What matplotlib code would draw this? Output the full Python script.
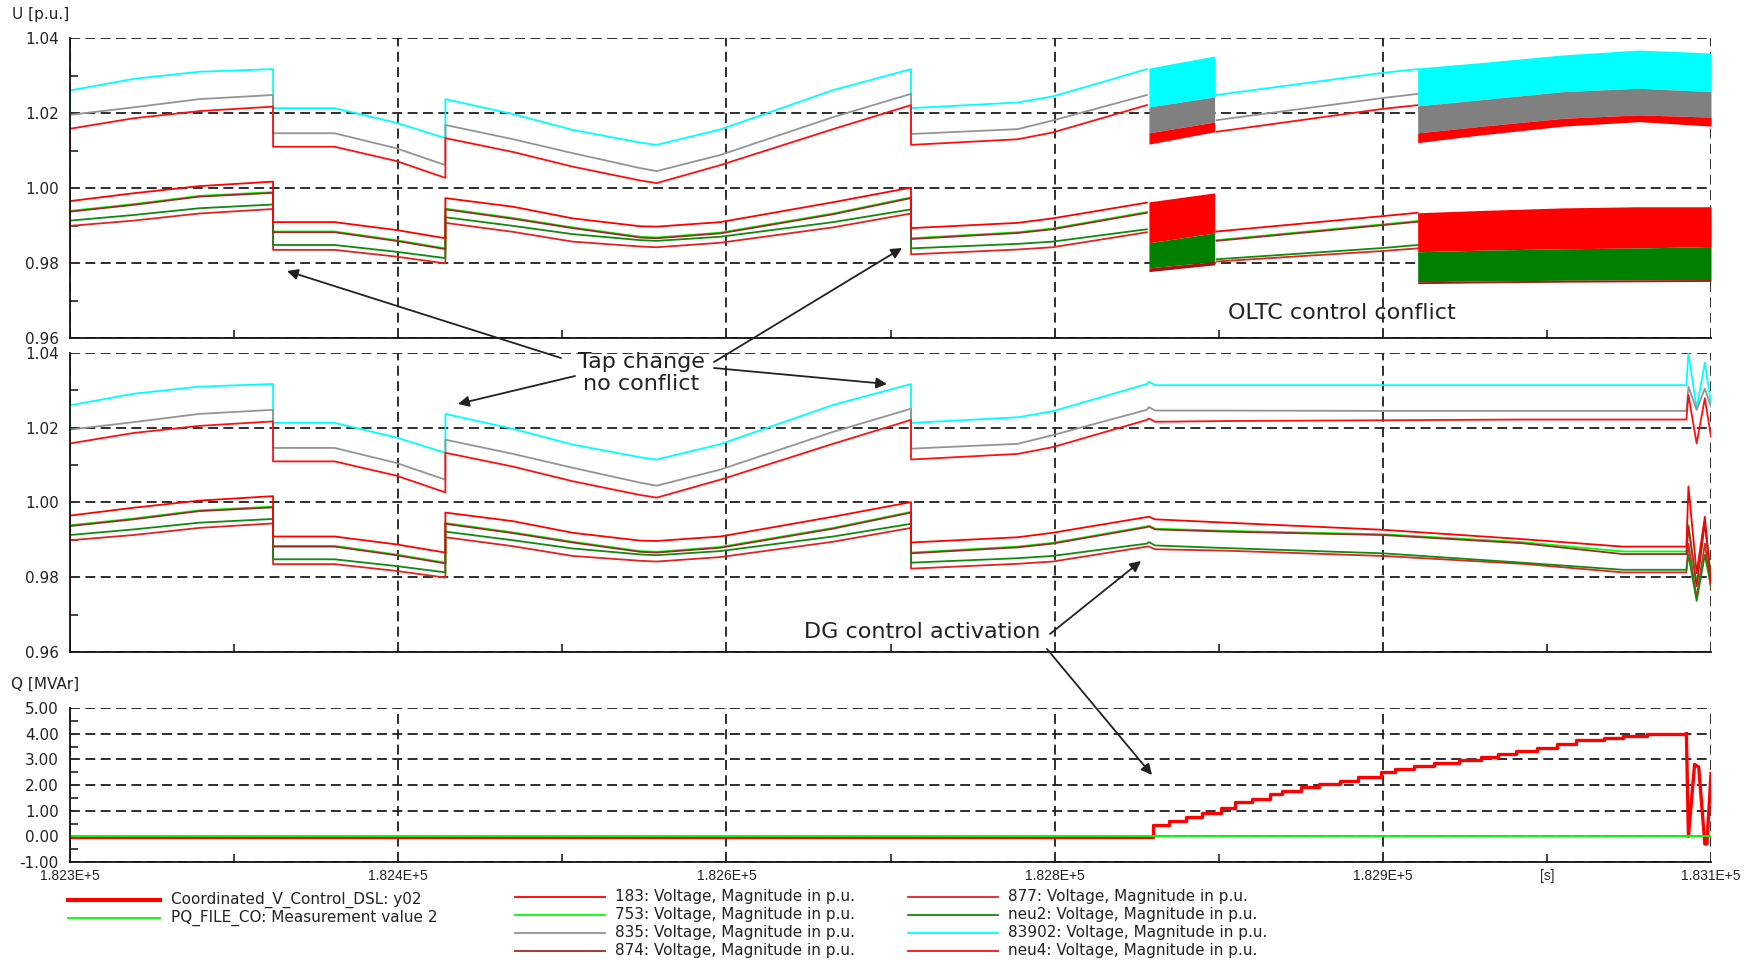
import matplotlib
matplotlib.use("Agg")
import matplotlib.pyplot as plt
from matplotlib.lines import Line2D
from matplotlib.patches import FancyArrowPatch
from matplotlib.ticker import FixedLocator, MultipleLocator

plt.rcParams['font.family'] = ['DejaVu Sans']

# ---------------------------------------------------------------- axis data
T_START, T_END = 182300, 183100
X_GRID = [182300, 182460, 182620, 182780, 182940, 183100]
X_MINOR = [182380, 182540, 182700, 182860, 183020]
X_LABELS = ['1.823E+5', '1.824E+5', '1.826E+5', '1.828E+5', '1.829E+5', '1.831E+5']
X_UNIT_POS = 183020
X_UNIT = '[s]'

U_TICKS = [0.96, 0.98, 1.00, 1.02, 1.04]
Q_TICKS = [-1.0, 0.0, 1.0, 2.0, 3.0, 4.0, 5.0]

# ------------------------------------------------- bus voltages, common part
T_BASE = [182300, 182331, 182363, 182399, 182399, 182429, 182459, 182483, 182483,
          182516, 182545, 182578, 182586, 182617, 182672, 182710, 182710, 182762,
          182779, 182825]
V83902_BASE = [1.0260, 1.0291, 1.0310, 1.0317, 1.0213, 1.0213, 1.0174, 1.0133, 1.0237,
               1.0197, 1.0155, 1.0121, 1.0115, 1.0156, 1.0261, 1.0317, 1.0213, 1.0228,
               1.0244, 1.0317]
V835_BASE = [1.0195, 1.0215, 1.0237, 1.0248, 1.0146, 1.0146, 1.0106, 1.0061, 1.0168,
             1.0130, 1.0093, 1.0053, 1.0045, 1.0088, 1.0189, 1.0251, 1.0144, 1.0157,
             1.0180, 1.0248]
VNEU4_BASE = [1.0158, 1.0186, 1.0205, 1.0217, 1.0110, 1.0110, 1.0072, 1.0027, 1.0133,
              1.0096, 1.0057, 1.0020, 1.0013, 1.0061, 1.0157, 1.0221, 1.0115, 1.0130,
              1.0148, 1.0221]
V183_BASE = [0.9965, 0.9986, 1.0005, 1.0017, 0.9909, 0.9909, 0.9888, 0.9866, 0.9973,
             0.9950, 0.9919, 0.9898, 0.9897, 0.9909, 0.9962, 1.0001, 0.9893, 0.9907,
             0.9919, 0.9961]
V874_BASE = [0.9937, 0.9955, 0.9977, 0.9987, 0.9882, 0.9882, 0.9859, 0.9837, 0.9943,
             0.9918, 0.9893, 0.9868, 0.9866, 0.9879, 0.9930, 0.9973, 0.9864, 0.9880,
             0.9890, 0.9934]
V753_BASE = [0.9939, 0.9957, 0.9979, 0.9989, 0.9884, 0.9884, 0.9861, 0.9839, 0.9945,
             0.9920, 0.9895, 0.9870, 0.9868, 0.9881, 0.9932, 0.9975, 0.9866, 0.9882,
             0.9892, 0.9936]
VNEU2_BASE = [0.9913, 0.9928, 0.9946, 0.9956, 0.9848, 0.9848, 0.9830, 0.9813, 0.9922,
              0.9899, 0.9877, 0.9861, 0.9859, 0.9870, 0.9909, 0.9943, 0.9839, 0.9851,
              0.9857, 0.9890]
V877_BASE = [0.9899, 0.9913, 0.9932, 0.9944, 0.9835, 0.9835, 0.9817, 0.9799, 0.9907,
             0.9883, 0.9857, 0.9844, 0.9842, 0.9854, 0.9895, 0.9932, 0.9823, 0.9836,
             0.9842, 0.9882]

# initial values at simulation start (order: 83902, 835, neu4, 183, 753, 874, neu2, 877)
START_OLTC = [1.0142, 1.0190, 1.0040, 0.9800, 0.9850, 0.9860, 0.9800, 0.9795]
START_DG = [0.9860, 1.0000, 1.0120, 0.9630, 0.9660, 0.9700, 0.9660, 0.9640]

# --------------------------------- OLTC case: quiet interval between conflicts
T_MID = [182859, 182940, 182957]
V83902_MID = [1.0248, 1.0307, 1.0317]
V835_MID = [1.0181, 1.0240, 1.0251]
VNEU4_MID = [1.0150, 1.0211, 1.0221]
V183_MID = [0.9884, 0.9925, 0.9934]
V874_MID = [0.9859, 0.9901, 0.9910]
V753_MID = [0.9861, 0.9903, 0.9912]
VNEU2_MID = [0.9810, 0.9840, 0.9848]
V877_MID = [0.9804, 0.9832, 0.9839]

# --------------------------- OLTC case: envelopes of the hunting tap changer
T_BAND1 = [182826, 182858]
B1_83902_HI = [1.0320, 1.0352]
B1_83902_LO = [1.0216, 1.0243]
B1_835_LO = [1.0147, 1.0176]
B1_NEU4_LO = [1.0117, 1.0150]
B1_183_HI = [0.9963, 0.9987]
B1_183_LO = [0.9854, 0.9880]
B1_NEU2_LO = [0.9787, 0.9804]
B1_877_LO = [0.9777, 0.9795]

T_BAND2 = [182957, 182987, 183028, 183065, 183100]
B2_83902_HI = [1.0320, 1.0334, 1.0355, 1.0368, 1.0360]
B2_83902_LO = [1.0219, 1.0235, 1.0257, 1.0266, 1.0257]
B2_835_LO = [1.0147, 1.0164, 1.0186, 1.0195, 1.0189]
B2_NEU4_LO = [1.0121, 1.0141, 1.0165, 1.0177, 1.0165]
B2_183_HI = [0.9934, 0.9940, 0.9947, 0.9950, 0.9950]
B2_183_LO = [0.9830, 0.9834, 0.9838, 0.9840, 0.9844]
B2_NEU2_LO = [0.9750, 0.9752, 0.9754, 0.9755, 0.9756]
B2_877_LO = [0.9745, 0.9747, 0.9749, 0.9750, 0.9751]

# ------------------------------------- coordinated case after DG activation
T_TAIL = [182826, 182829, 182864, 182940, 183008, 183057, 183088, 183089, 183093,
          183097, 183100]
V83902_TAIL = [1.0323, 1.0314, 1.0314, 1.0314, 1.0314, 1.0314, 1.0314, 1.0400, 1.0252,
               1.0374, 1.0265]
V835_TAIL = [1.0255, 1.0246, 1.0246, 1.0245, 1.0245, 1.0245, 1.0245, 1.0310, 1.0248,
             1.0305, 1.0256]
VNEU4_TAIL = [1.0225, 1.0216, 1.0218, 1.0220, 1.0222, 1.0222, 1.0222, 1.0288, 1.0158,
              1.0279, 1.0176]
V183_TAIL = [0.9962, 0.9955, 0.9946, 0.9927, 0.9902, 0.9882, 0.9882, 1.0043, 0.9811,
             0.9962, 0.9784]
V874_TAIL = [0.9936, 0.9928, 0.9922, 0.9913, 0.9891, 0.9862, 0.9862, 0.9936, 0.9776,
             0.9945, 0.9790]
V753_TAIL = [0.9938, 0.9930, 0.9924, 0.9915, 0.9894, 0.9869, 0.9869, 0.9940, 0.9780,
             0.9948, 0.9795]
VNEU2_TAIL = [0.9894, 0.9885, 0.9878, 0.9864, 0.9839, 0.9820, 0.9820, 0.9860, 0.9737,
              0.9860, 0.9776]
V877_TAIL = [0.9882, 0.9875, 0.9871, 0.9857, 0.9836, 0.9813, 0.9813, 0.9890, 0.9745,
             0.9890, 0.9770]

# ------------------------------------------------- reactive power of the DG
Q_STEP_T = [182300, 182828, 182836, 182844, 182852, 182861, 182868, 182876, 182885,
            182891, 182900, 182909, 182919, 182928, 182939, 182946, 182955, 182965,
            182977, 182988, 182996, 183005, 183015, 183025, 183034, 183048, 183057,
            183069, 183088]
Q_STEP_V = [-0.04, 0.45, 0.58, 0.75, 0.90, 1.10, 1.32, 1.45, 1.65, 1.78, 1.91, 2.04,
            2.17, 2.30, 2.49, 2.62, 2.73, 2.86, 2.99, 3.08, 3.21, 3.34, 3.44, 3.60,
            3.77, 3.83, 3.92, 4.00, 4.00]
Q_OSC_T = [183088, 183089, 183092, 183094, 183097, 183098, 183100]
Q_OSC_V = [4.00, 0.00, 2.80, 2.70, -0.30, -0.30, 2.45]
Q_MEAS_T = [182300, 183100]
Q_MEAS_V = [0.0, 0.0]

# ------------------------------------------------------------------ legend
LEGEND_Q_LABELS = ['Coordinated_V_Control_DSL: y02', 'PQ_FILE_CO: Measurement value 2']
LEGEND_Q_COLORS = ['#ff0000', '#00ff00']
LEGEND_Q_WIDTHS = [3.0, 1.3]
LEGEND_U_LABELS = ['183: Voltage, Magnitude in p.u.', '753: Voltage, Magnitude in p.u.',
                   '835: Voltage, Magnitude in p.u.', '874: Voltage, Magnitude in p.u.',
                   '877: Voltage, Magnitude in p.u.', 'neu2: Voltage, Magnitude in p.u.',
                   '83902: Voltage, Magnitude in p.u.', 'neu4: Voltage, Magnitude in p.u.']

COL = {'183': '#ff0000', '753': '#00ff00', '835': '#949494', '874': '#9c2a2a',
       '877': '#e32222', 'neu2': '#108a10', '83902': '#00ffff', 'neu4': '#ff1010'}
LEGEND_U_COLORS = [COL['183'], COL['753'], COL['835'], COL['874'],
                   COL['877'], COL['neu2'], COL['83902'], COL['neu4']]

TXT = '#222222'
W, H = 1761, 960

fig = plt.figure(figsize=(W / 100, H / 100), dpi=100)
fig.patch.set_facecolor('white')


def box(l, t, r, b):
    return [l / W, 1 - b / H, (r - l) / W, (b - t) / H]


ax1 = fig.add_axes(box(70, 38, 1711, 338))
ax2 = fig.add_axes(box(70, 353, 1711, 652))
ax3 = fig.add_axes(box(70, 708, 1711, 862))


def style(ax, ticks, fmt, minor, show_x):
    ax.set_xlim(T_START, T_END)
    ax.set_ylim(ticks[0], ticks[-1])
    ax.set_facecolor('none')
    for s in ('top', 'right'):
        ax.spines[s].set_visible(False)
    for s in ('left', 'bottom'):
        ax.spines[s].set_linewidth(1.3)
        ax.spines[s].set_color('#111111')
        ax.spines[s].set_zorder(4)
    ax.xaxis.set_major_locator(FixedLocator(X_GRID))
    ax.xaxis.set_minor_locator(FixedLocator(X_MINOR))
    ax.yaxis.set_major_locator(FixedLocator(ticks))
    ax.yaxis.set_minor_locator(MultipleLocator(minor))
    ax.grid(True, which='major', color='#1e1e1e', lw=1.3, ls=(0, (5.5, 3.0)), zorder=1)
    ax.set_axisbelow(True)
    ax.tick_params(which='minor', direction='in', length=6, width=1.1, color='#111111',
                   top=False, right=False)
    ax.tick_params(which='major', direction='in', length=0, pad=8, labelsize=11,
                   labelcolor=TXT, top=False, right=False)
    ax.set_yticklabels([fmt % v for v in ticks])
    if show_x:
        ax.set_xticklabels(X_LABELS, fontfamily='Liberation Sans', fontsize=10)
        ax.tick_params(axis='x', which='major', pad=5)
    else:
        ax.tick_params(axis='x', labelbottom=False)


style(ax1, U_TICKS, '%.2f', 0.01, False)
style(ax2, U_TICKS, '%.2f', 0.01, False)
style(ax3, Q_TICKS, '%.2f', 0.5, True)

ax3.annotate(X_UNIT, xy=(X_UNIT_POS, 0), xycoords=('data', 'axes fraction'),
             xytext=(0, -5), textcoords='offset points', ha='center', va='top',
             fontsize=10, fontfamily='Liberation Sans', color=TXT)

# series in drawing order: (name, start index, base, mid, tail)
ORDER = [('83902', 0, V83902_BASE, V83902_MID, V83902_TAIL),
         ('835', 1, V835_BASE, V835_MID, V835_TAIL),
         ('neu4', 2, VNEU4_BASE, VNEU4_MID, VNEU4_TAIL),
         ('877', 7, V877_BASE, V877_MID, V877_TAIL),
         ('neu2', 6, VNEU2_BASE, VNEU2_MID, VNEU2_TAIL),
         ('753', 4, V753_BASE, V753_MID, V753_TAIL),
         ('874', 5, V874_BASE, V874_MID, V874_TAIL),
         ('183', 3, V183_BASE, V183_MID, V183_TAIL)]

LW = 1.3
for name, i, base, mid, tail in ORDER:
    c = COL[name]
    # OLTC-only case
    ax1.plot([T_START] + T_BASE, [START_OLTC[i]] + base, color=c, lw=LW, zorder=3)
    ax1.plot(T_MID, mid, color=c, lw=LW, zorder=3)
    # coordinated case
    ax2.plot([T_START] + T_BASE + T_TAIL, [START_DG[i]] + base + tail,
             color=c, lw=LW, zorder=3)

# hunting envelopes of the OLTC-only case
for t, hi, lo1, lo2, lo3, lhi, llo1, llo2, llo3 in [
        (T_BAND1, B1_83902_HI, B1_83902_LO, B1_835_LO, B1_NEU4_LO,
         B1_183_HI, B1_183_LO, B1_NEU2_LO, B1_877_LO),
        (T_BAND2, B2_83902_HI, B2_83902_LO, B2_835_LO, B2_NEU4_LO,
         B2_183_HI, B2_183_LO, B2_NEU2_LO, B2_877_LO)]:
    ax1.fill_between(t, lo1, hi, color='#00ffff', lw=0, zorder=3)
    ax1.fill_between(t, lo2, lo1, color='#808080', lw=0, zorder=3)
    ax1.fill_between(t, lo3, lo2, color='#ff0000', lw=0, zorder=3)
    ax1.fill_between(t, llo1, lhi, color='#ff0000', lw=0, zorder=3)
    ax1.fill_between(t, llo2, llo1, color='#008000', lw=0, zorder=3)
    ax1.fill_between(t, llo3, llo2, color='#b01010', lw=0, zorder=3)

# reactive power
ax3.plot(Q_STEP_T, Q_STEP_V, drawstyle='steps-post', color='#ff0000', lw=2.4, zorder=3)
ax3.plot(Q_OSC_T, Q_OSC_V, color='#ff0000', lw=2.4, zorder=3)
ax3.plot(Q_MEAS_T, Q_MEAS_V, color='#00ff00', lw=1.4, zorder=4)

# axis captions
fig.text(12 / W, 1 - 15 / H, 'U [p.u.]', ha='left', va='center', fontsize=11, color=TXT)
fig.text(11 / W, 1 - 684 / H, 'Q [MVAr]', ha='left', va='center', fontsize=11, color=TXT)


# annotations
def fx(x):
    return x / W


def fy(y):
    return 1 - y / H


fig.text(fx(641), fy(373), 'Tap change\nno conflict', ha='center', va='center',
         fontsize=16, color=TXT, linespacing=1.12)
fig.text(fx(1342), fy(313), 'OLTC control conflict', ha='center', va='center',
         fontsize=16, color=TXT)
fig.text(fx(922), fy(632), 'DG control activation', ha='center', va='center',
         fontsize=16, color=TXT)

ARROWS = [((561, 358), (287, 271)), ((714, 362), (902, 248)),
          ((575, 376), (458, 404)), ((714, 368), (887, 384)),
          ((1050, 634), (1141, 561)), ((1047, 649), (1152, 775))]
for (tx, ty), (hx, hy) in ARROWS:
    fig.add_artist(FancyArrowPatch((fx(tx), fy(ty)), (fx(hx), fy(hy)),
                                   transform=fig.transFigure, arrowstyle='-|>',
                                   mutation_scale=16, lw=1.3, color='#222222',
                                   shrinkA=0, shrinkB=0, zorder=6))

# legend
LEG_ROWS = [897, 915, 933, 951]
for k, (lab, c, lw) in enumerate(zip(LEGEND_Q_LABELS, LEGEND_Q_COLORS, LEGEND_Q_WIDTHS)):
    y = 900 + 18 * k
    fig.add_artist(Line2D([fx(68), fx(160)], [fy(y), fy(y)], transform=fig.transFigure,
                          color=c, lw=lw))
    fig.text(fx(171), fy(y), lab, ha='left', va='center', fontsize=11, color=TXT)

for k, (lab, c) in enumerate(zip(LEGEND_U_LABELS, LEGEND_U_COLORS)):
    col, row = divmod(k, 4)
    x0 = [515, 908][col]
    y = LEG_ROWS[row]
    fig.add_artist(Line2D([fx(x0), fx(x0 + 90)], [fy(y), fy(y)], transform=fig.transFigure,
                          color=c, lw=1.3))
    fig.text(fx(x0 + 100), fy(y), lab, ha='left', va='center', fontsize=11, color=TXT)

fig.savefig('out.png', dpi=100, facecolor='white')
